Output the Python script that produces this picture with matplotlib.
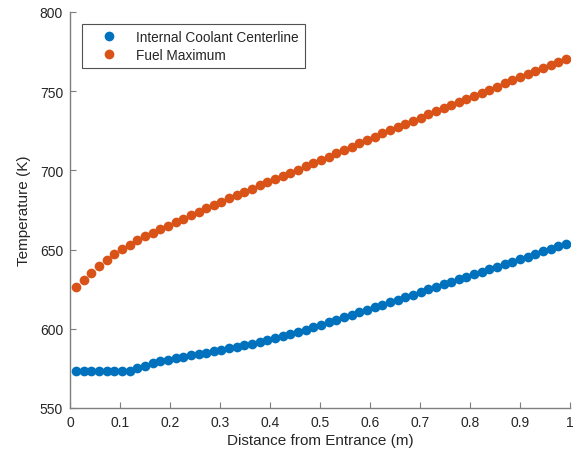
import numpy as np
import matplotlib.pyplot as plt

# distance along the channel (m), 65 nodes
distance = np.linspace(0.012, 0.992, 65)

# internal coolant centerline temperature (K)
coolant = [573.3, 573.3, 573.3, 573.3, 573.3, 573.3, 573.3, 573.4,
           575.0, 576.8, 578.2, 579.4, 580.5, 581.5, 582.4, 583.3,
           584.1, 584.9, 585.8, 586.7, 587.6, 588.6, 589.6, 590.6,
           591.7, 592.8, 594.0, 595.3, 596.6, 598.0, 599.4, 600.9,
           602.4, 604.0, 605.6, 607.2, 608.8, 610.4, 612.0, 613.6,
           615.2, 616.8, 618.4, 620.0, 621.6, 623.2, 624.8, 626.4,
           628.0, 629.6, 631.2, 632.8, 634.4, 636.0, 637.6, 639.2,
           640.8, 642.4, 644.0, 645.6, 647.2, 648.8, 650.4, 652.1,
           653.8]

# fuel maximum temperature (K)
fuel = [626.2, 630.6, 635.0, 639.6, 643.4, 647.0, 650.2, 653.1,
        655.8, 658.3, 660.7, 663.0, 665.2, 667.4, 669.6, 671.8,
        674.0, 676.1, 678.2, 680.3, 682.4, 684.5, 686.5, 688.5,
        690.5, 692.5, 694.5, 696.5, 698.5, 700.5, 702.5, 704.5,
        706.5, 708.6, 710.7, 712.8, 714.9, 717.0, 719.1, 721.2,
        723.3, 725.3, 727.3, 729.3, 731.3, 733.3, 735.3, 737.3,
        739.3, 741.2, 743.2, 745.1, 747.1, 749.0, 751.0, 752.9,
        754.9, 756.8, 758.7, 760.6, 762.5, 764.4, 766.3, 768.2,
        770.1]

xticks = np.arange(0, 1.01, 0.1)
xticklabels = ["0", "0.1", "0.2", "0.3", "0.4", "0.5", "0.6", "0.7", "0.8", "0.9", "1"]
yticks = [550, 600, 650, 700, 750, 800]

plt.rcParams['font.family'] = ['Liberation Sans', 'DejaVu Sans']
axis_grey = '#7f7f7f'
text_grey = '#262626'

fig = plt.figure(figsize=(5.81, 4.60), dpi=100)
ax = fig.add_axes([0.1205, 0.1109, 0.8606, 0.8609])

ax.plot(distance, coolant, 'o', color='#0072BD', ms=7, mec='none', label='Internal Coolant Centerline')
ax.plot(distance, fuel, 'o', color='#D95319', ms=7, mec='none', label='Fuel Maximum')

ax.set_xlim(0, 1)
ax.set_ylim(550, 800)
ax.set_xticks(xticks)
ax.set_xticklabels(xticklabels)
ax.set_yticks(yticks)

for side in ['top', 'right']:
    ax.spines[side].set_visible(False)
for side in ['left', 'bottom']:
    ax.spines[side].set_color(axis_grey)
    ax.spines[side].set_linewidth(1.0)
ax.tick_params(direction='in', length=4, width=0.8, color=axis_grey,
               labelcolor=text_grey, labelsize=10, pad=5)

ax.set_xlabel('Distance from Entrance (m)', fontsize=11, color=text_grey, labelpad=3)
ax.set_ylabel('Temperature (K)', fontsize=11, color=text_grey, labelpad=6)

leg = ax.legend(loc='upper left', bbox_to_anchor=(0.024, 0.97), fontsize=9.8,
                frameon=True, fancybox=False, edgecolor=text_grey,
                borderpad=0.45, handletextpad=0.43, handlelength=3.1,
                labelspacing=0.3, borderaxespad=0)
leg.get_frame().set_linewidth(0.8)
for t in leg.get_texts():
    t.set_color(text_grey)

fig.savefig('out.png', dpi=100)
